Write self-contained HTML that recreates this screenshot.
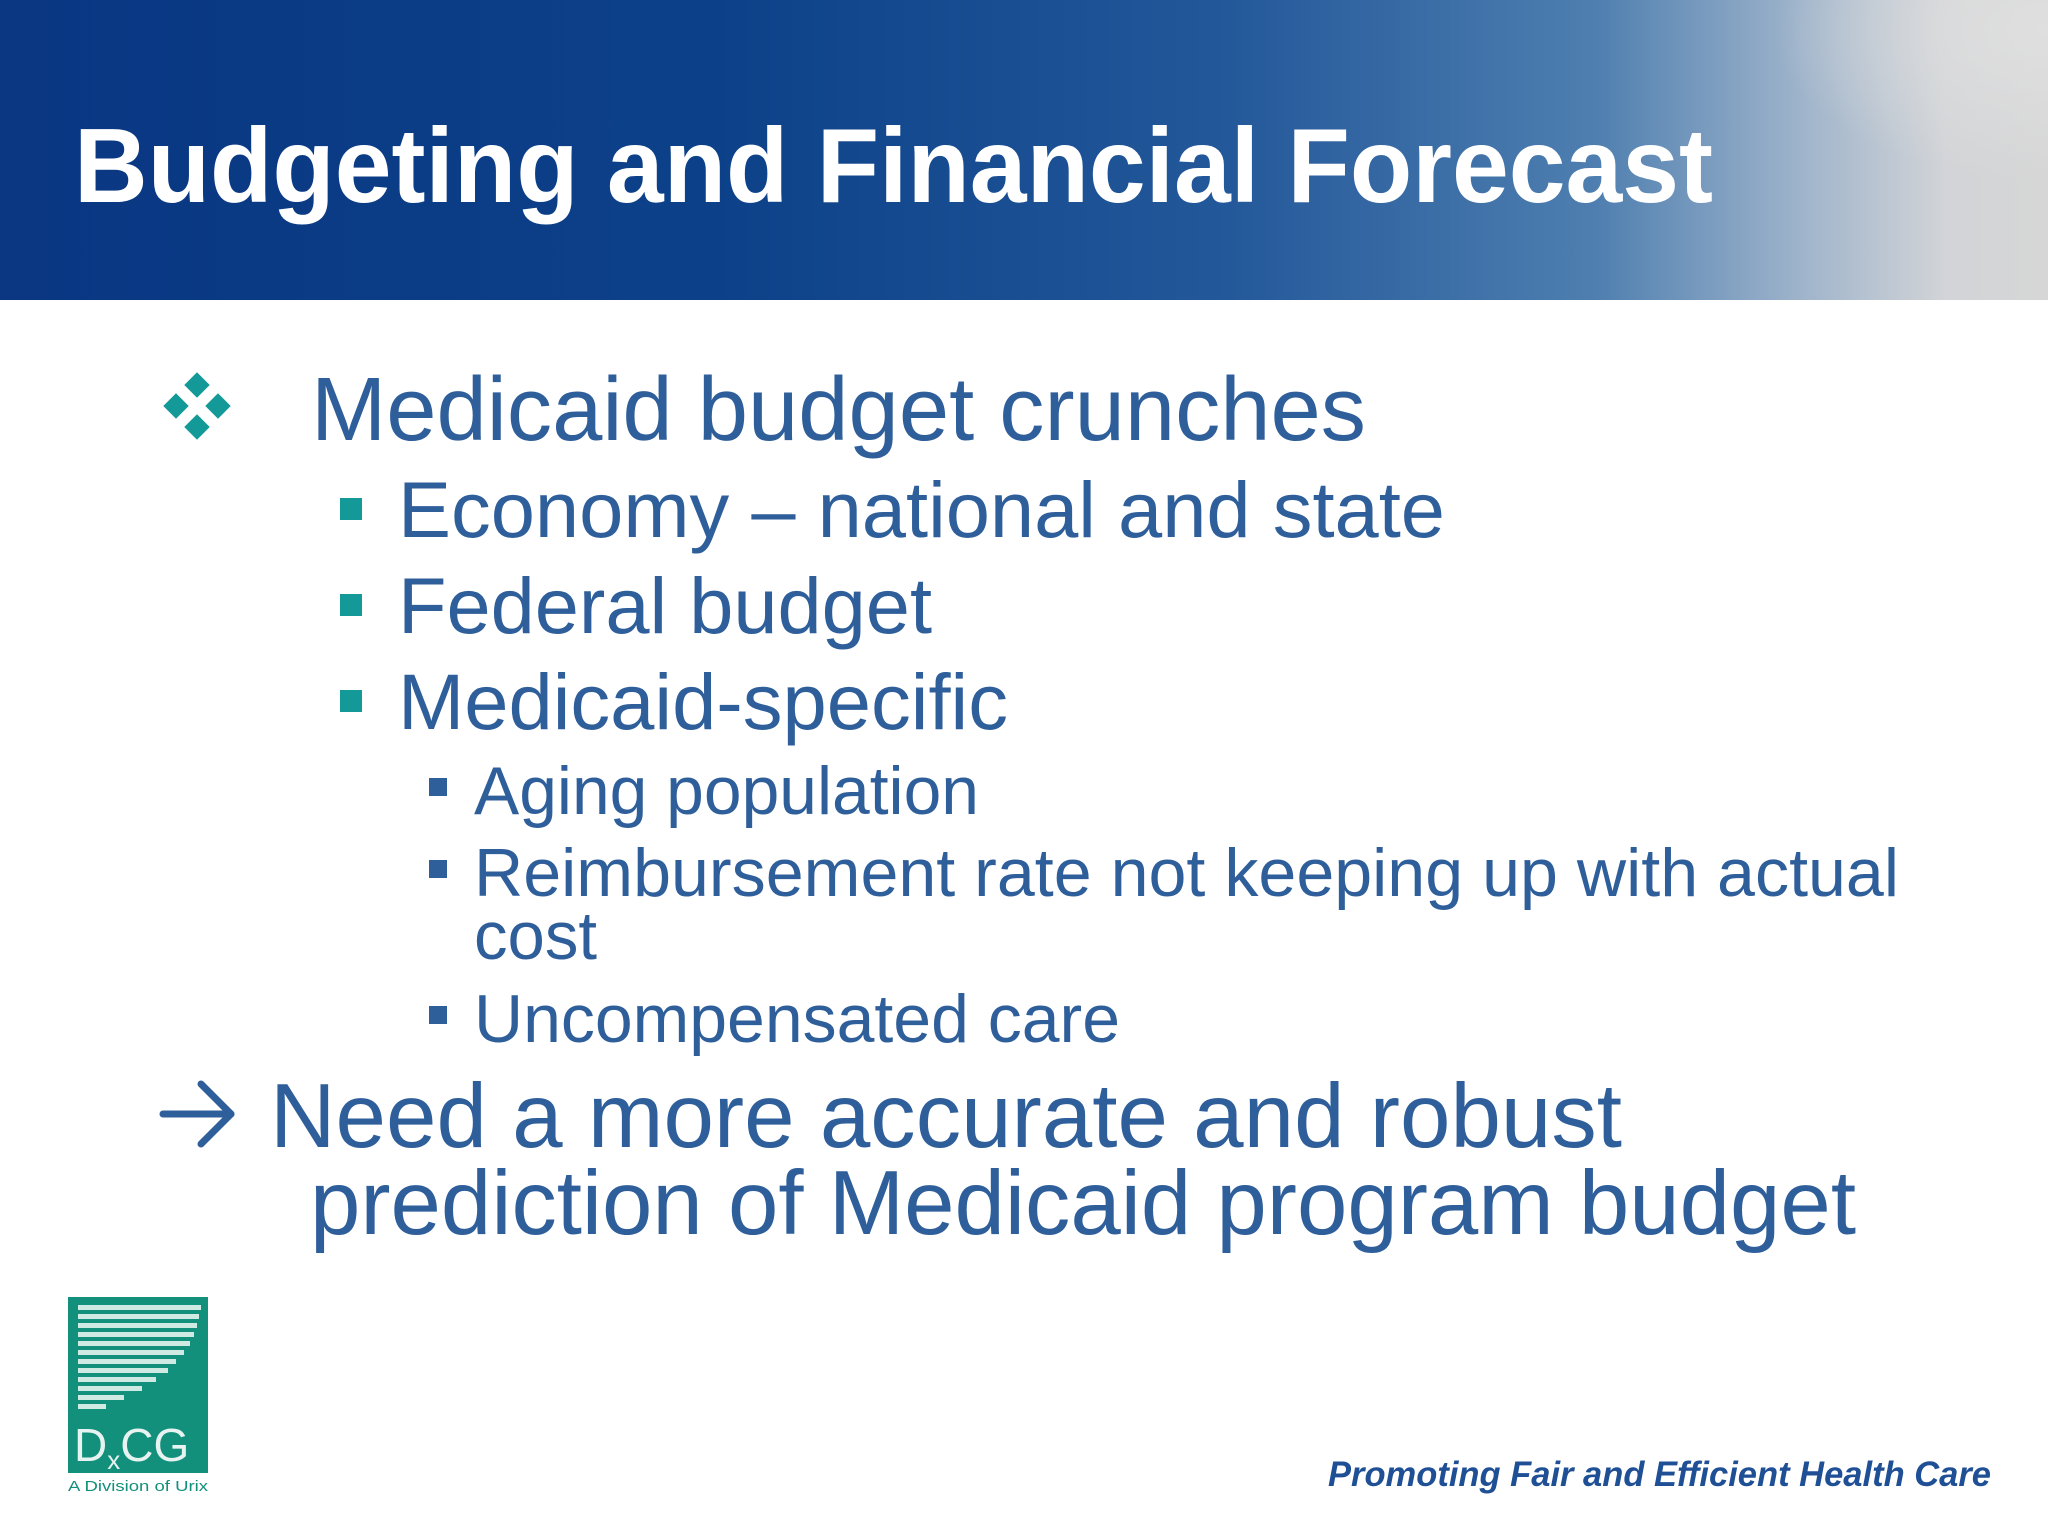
<!DOCTYPE html>
<html><head><meta charset="utf-8"><style>
html,body{margin:0;padding:0;background:#fff;}
svg{display:block;}
</style></head><body>
<svg width="2048" height="1536" viewBox="0 0 2048 1536" xmlns="http://www.w3.org/2000/svg" font-family="'Liberation Sans', Arial, sans-serif">
<defs>
<linearGradient id="hg" x1="0" y1="0" x2="1" y2="0">
<stop offset="0" stop-color="#0a3682"/>
<stop offset="0.35" stop-color="#0c4189"/>
<stop offset="0.6" stop-color="#23589a"/>
<stop offset="0.78" stop-color="#4f7fb0"/>
<stop offset="0.88" stop-color="#9fb4cb"/>
<stop offset="0.95" stop-color="#d2d4d7"/>
<stop offset="1" stop-color="#d6d6d6"/>
</linearGradient>
<radialGradient id="sun" cx="1" cy="0.1" r="0.5">
<stop offset="0" stop-color="#e0e0e0" stop-opacity="0.9"/>
<stop offset="1" stop-color="#e0e0e0" stop-opacity="0"/>
</radialGradient>
</defs>
<g>
<rect x="0" y="0" width="2048" height="300" fill="url(#hg)"/>
<rect x="1500" y="0" width="548" height="300" fill="url(#sun)"/>
<text x="74" y="202" font-size="106" font-weight="bold" fill="#ffffff" textLength="1639" lengthAdjust="spacingAndGlyphs">Budgeting and Financial Forecast</text>
</g>
<g fill="#2f5f9b">
<g fill="#139a98">
<rect x="188" y="376" width="18" height="18" transform="rotate(45 197 385)"/>
<rect x="167" y="397" width="18" height="18" transform="rotate(45 176 406)"/>
<rect x="209" y="397" width="18" height="18" transform="rotate(45 218 406)"/>
<rect x="188" y="418" width="18" height="18" transform="rotate(45 197 427)"/>
</g>
<text x="311" y="440" font-size="90" textLength="1055" lengthAdjust="spacingAndGlyphs">Medicaid budget crunches</text>
<rect x="340" y="498" width="22" height="22" fill="#139a98"/>
<text x="398" y="537" font-size="79" textLength="1047" lengthAdjust="spacingAndGlyphs">Economy – national and state</text>
<rect x="340" y="594" width="22" height="22" fill="#139a98"/>
<text x="398" y="633" font-size="79" textLength="534" lengthAdjust="spacingAndGlyphs">Federal budget</text>
<rect x="340" y="690" width="22" height="22" fill="#139a98"/>
<text x="398" y="729" font-size="79" textLength="610" lengthAdjust="spacingAndGlyphs">Medicaid-specific</text>
<rect x="429" y="778" width="18" height="18"/>
<text x="474" y="814" font-size="68" textLength="505" lengthAdjust="spacingAndGlyphs">Aging population</text>
<rect x="429" y="860" width="18" height="18"/>
<text x="474" y="896" font-size="68" textLength="1425" lengthAdjust="spacingAndGlyphs">Reimbursement rate not keeping up with actual</text>
<text x="474" y="959" font-size="68" textLength="123" lengthAdjust="spacingAndGlyphs">cost</text>
<rect x="429" y="1006" width="18" height="18"/>
<text x="474" y="1042" font-size="68" textLength="646" lengthAdjust="spacingAndGlyphs">Uncompensated care</text>
<g stroke="#2f5f9b" stroke-width="7" fill="none" stroke-linecap="round" stroke-linejoin="round">
<line x1="163" y1="1114" x2="231" y2="1114"/>
<polyline points="201,1084 231,1114 201,1144"/>
</g>
<text x="270" y="1147" font-size="91" textLength="1352" lengthAdjust="spacingAndGlyphs">Need a more accurate and robust</text>
<text x="310" y="1234" font-size="91" textLength="1546" lengthAdjust="spacingAndGlyphs">prediction of Medicaid program budget</text>
</g>
<g>
<rect x="68" y="1297" width="140" height="176" fill="#13907c"/>
<g fill="#cfe9e3">
<rect x="78" y="1305" width="123" height="5"/>
<rect x="78" y="1314" width="121" height="5"/>
<rect x="78" y="1323" width="119" height="5"/>
<rect x="78" y="1332" width="116" height="5"/>
<rect x="78" y="1341" width="112" height="5"/>
<rect x="78" y="1350" width="106" height="5"/>
<rect x="78" y="1359" width="98" height="5"/>
<rect x="78" y="1368" width="90" height="5"/>
<rect x="78" y="1377" width="78" height="5"/>
<rect x="78" y="1386" width="64" height="5"/>
<rect x="78" y="1395" width="46" height="5"/>
<rect x="78" y="1404" width="28" height="5"/>
</g>
<text x="74" y="1461" font-size="46" fill="#e6f3f0">D<tspan font-size="26" dy="8">x</tspan><tspan dy="-8">CG</tspan></text>
<text x="68" y="1491" font-size="15" fill="#13907c" textLength="140" lengthAdjust="spacingAndGlyphs">A Division of Urix</text>
</g>
<text x="1328" y="1486" font-size="35" font-weight="bold" font-style="italic" fill="#1f4f95" textLength="663" lengthAdjust="spacingAndGlyphs">Promoting Fair and Efficient Health Care</text>
</svg>
</body></html>
